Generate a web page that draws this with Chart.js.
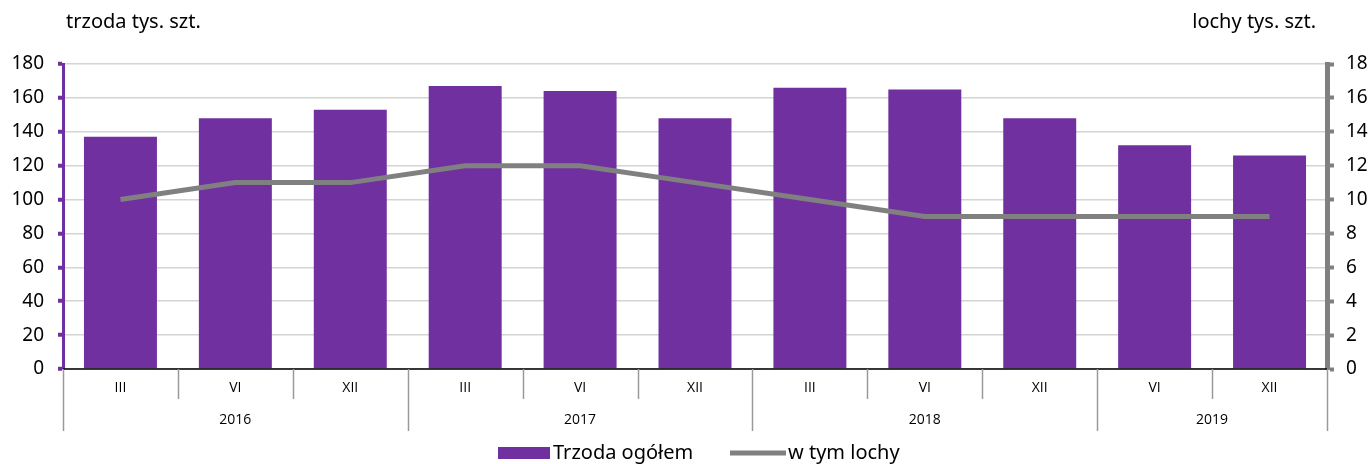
<!DOCTYPE html>
<html>
<head>
<meta charset="utf-8">
<script src="https://cdn.jsdelivr.net/npm/chart.js@4/dist/chart.umd.min.js"></script>
<style>
  html, body { margin:0; padding:0; background:#fff; font-family:'Noto Sans', sans-serif; }
  #wrap { width:1371px; height:464px; position:relative; }
</style>
</head>
<body>
<div id="wrap"><canvas id="pigChart"></canvas></div>
<script>
/* data */
const months = ['III','VI','XII','III','VI','XII','III','VI','XII','VI','XII'];
const yearLabels = ['2016','2017','2018','2019'];
const yearSpans = [3, 3, 3, 2];
const trzoda = [137, 148, 153, 167, 164, 148, 166, 165, 148, 132, 126];
const lochy = [10, 11, 11, 12, 12, 11, 10, 9, 9, 9, 9];
const leftTicks = [0, 180, 20];
const rightTicks = [0, 18, 2];

const PURPLE = '#7030a0';
const GREY = '#808080';
const FONT = "'Noto Sans', sans-serif";
const SMALL_FONT = "'Open Sans', sans-serif";

/* x axis with two rows + titles + legend */
const extras = {
  id: 'extras',
  afterDraw(chart) {
    const ctx = chart.ctx;
    const x = chart.scales.x;
    const area = chart.chartArea;
    const bottom = area.bottom;
    const edge = i => {
      if (i <= 0) return area.left;
      if (i >= months.length) return area.right;
      return (x.getPixelForValue(i - 1) + x.getPixelForValue(i)) / 2;
    };
    ctx.save();
    // base line
    ctx.strokeStyle = '#000';
    ctx.lineWidth = 1.5;
    ctx.beginPath(); ctx.moveTo(area.left, bottom); ctx.lineTo(area.right, bottom); ctx.stroke();

    // year boundaries
    const yearStarts = [0];
    yearSpans.forEach((s, k) => yearStarts.push(yearStarts[k] + s));

    ctx.strokeStyle = '#9a9a9a';
    ctx.lineWidth = 1.5;
    for (let i = 0; i <= months.length; i++) {
      const px = Math.round(edge(i)) + 0.5;
      const long = yearStarts.includes(i);
      ctx.beginPath(); ctx.moveTo(px, bottom); ctx.lineTo(px, long ? bottom + 62 : bottom + 30); ctx.stroke();
    }

    ctx.fillStyle = '#000';
    ctx.font = '14px ' + SMALL_FONT;
    ctx.textAlign = 'center';
    ctx.textBaseline = 'middle';
    months.forEach((m, i) => ctx.fillText(m, x.getPixelForValue(i), bottom + 19));
    yearLabels.forEach((y, k) => {
      const cx = (edge(yearStarts[k]) + edge(yearStarts[k + 1])) / 2;
      ctx.fillText(y, cx, bottom + 51);
    });

    // axis titles
    ctx.font = '20px ' + FONT;
    ctx.textAlign = 'left';
    ctx.fillText('trzoda tys. szt.', 66, 22);
    ctx.textAlign = 'right';
    ctx.fillText('lochy tys. szt.', 1316, 22);

    // legend
    const ds = chart.data.datasets;
    const ly = 453;
    ctx.font = '20px ' + FONT;
    ctx.textAlign = 'left';
    ctx.fillStyle = ds[0].backgroundColor;
    ctx.fillRect(498, ly - 6, 52, 12);
    ctx.fillStyle = '#000';
    ctx.fillText(ds[0].label, 553, ly);
    ctx.strokeStyle = ds[1].borderColor;
    ctx.lineWidth = 5;
    ctx.beginPath(); ctx.moveTo(730, ly); ctx.lineTo(786, ly); ctx.stroke();
    ctx.fillText(ds[1].label, 788, ly);
    ctx.restore();
  }
};

function drawChart() {
  new Chart(document.getElementById('pigChart'), {
    type: 'bar',
    data: {
      labels: months,
      datasets: [
        {
          label: 'Trzoda ogółem',
          data: trzoda,
          yAxisID: 'y',
          backgroundColor: PURPLE,
          barPercentage: 0.635,
          categoryPercentage: 1,
          order: 1
        },
        {
          type: 'line',
          label: 'w tym lochy',
          data: lochy,
          yAxisID: 'y1',
          borderColor: GREY,
          backgroundColor: GREY,
          borderWidth: 5,
          pointRadius: 0,
          tension: 0,
          order: 0
        }
      ]
    },
    options: {
      responsive: true,
      maintainAspectRatio: false,
      animation: false,
      layout: { padding: { top: 64, bottom: 95, left: 0, right: 0 } },
      plugins: { legend: { display: false }, tooltip: { enabled: false } },
      scales: {
        x: { display: false, offset: true },
        y: {
          position: 'left',
          min: leftTicks[0], max: leftTicks[1],
          ticks: { stepSize: leftTicks[2], color: '#000', padding: 14, font: { family: FONT, size: 19 } },
          grid: { color: '#d4d4d4', lineWidth: 1.5, tickColor: PURPLE, tickLength: 5, tickWidth: 4 },
          border: { color: PURPLE, width: 3 },
          afterFit(s) { s.width = 63; }
        },
        y1: {
          position: 'right',
          min: rightTicks[0], max: rightTicks[1],
          ticks: { stepSize: rightTicks[2], color: '#000', padding: 12, font: { family: FONT, size: 19 } },
          grid: { drawOnChartArea: false, tickColor: GREY, tickLength: 7, tickWidth: 4 },
          border: { color: GREY, width: 5 },
          afterFit(s) { s.width = 44; }
        }
      }
    },
    plugins: [extras]
  });
}

Promise.all([
  document.fonts.load("14px 'Open Sans'"),
  document.fonts.load("19px 'Noto Sans'"),
  document.fonts.load("20px 'Noto Sans'")
]).then(drawChart, drawChart);
</script>
</body>
</html>
